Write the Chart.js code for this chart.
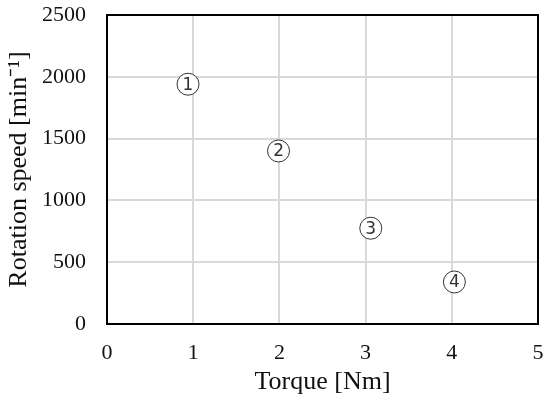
<!DOCTYPE html>
<html>
<head>
<meta charset="utf-8">
<script src="https://cdn.jsdelivr.net/npm/chart.js@4/dist/chart.umd.min.js"></script>
<style>
  html, body { margin: 0; padding: 0; background: #fff; }
  #wrap { width: 550px; height: 401px; }
</style>
</head>
<body>
<div id="wrap"><canvas id="grafic"></canvas></div>
<script>
// values
const torque = [0.94, 1.99, 3.06, 4.03];
const speed = [1940, 1400, 775, 340];
const pointNames = ["1", "2", "3", "4"];
const xTicks = [0, 1, 2, 3, 4, 5];
const yTicks = [0, 500, 1000, 1500, 2000, 2500];

const serif = "'Liberation Serif', 'Times New Roman', serif";

// frame round the plot area
const frame = {
  id: "frame",
  afterDraw(chart) {
    const { ctx, chartArea: a } = chart;
    ctx.save();
    ctx.strokeStyle = "#000";
    ctx.lineWidth = 2;
    ctx.strokeRect(a.left, a.top, a.right - a.left, a.bottom - a.top);
    ctx.restore();
  }
};

// numbers inside the circle markers
const numbers = {
  id: "numbers",
  afterDatasetsDraw(chart) {
    const ctx = chart.ctx;
    const meta = chart.getDatasetMeta(0);
    ctx.save();
    ctx.fillStyle = "#333";
    ctx.font = "17px 'DejaVu Sans', sans-serif";
    ctx.textAlign = "center";
    ctx.textBaseline = "middle";
    meta.data.forEach((p, i) => {
      ctx.fillText(pointNames[i], p.x, p.y + 1);
    });
    ctx.restore();
  }
};

const ctx = document.getElementById("grafic").getContext("2d");
new Chart(ctx, {
  type: "scatter",
  data: {
    datasets: [
      {
        data: torque.map((t, i) => ({ x: t, y: speed[i] })),
        pointRadius: 11,
        pointHoverRadius: 11,
        pointBackgroundColor: "#fff",
        pointBorderColor: "#333",
        pointBorderWidth: 1
      }
    ]
  },
  options: {
    responsive: true,
    maintainAspectRatio: false,
    animation: false,
    events: [],
    layout: { padding: { top: 15, right: 9, left: 0, bottom: 0 } },
    plugins: {
      legend: { display: false },
      tooltip: { enabled: false }
    },
    scales: {
      x: {
        type: "linear",
        min: 0,
        max: 5,
        afterBuildTicks: (s) => { s.ticks = xTicks.map((v) => ({ value: v })); },
        afterFit: (s) => { s.height = 77; s.paddingLeft = 0; s.paddingRight = 0; },
        grid: { color: "#d9d9d9", lineWidth: 2, drawTicks: false },
        border: { display: false },
        ticks: {
          padding: 16,
          color: "#111",
          font: { family: serif, size: 22 },
          callback: (v) => String(v)
        },
        title: {
          display: true,
          text: "Torque [Nm]",
          color: "#111",
          font: { family: serif, size: 26 },
          padding: { top: 0, bottom: 3 }
        }
      },
      y: {
        type: "linear",
        min: 0,
        max: 2500,
        afterBuildTicks: (s) => { s.ticks = yTicks.map((v) => ({ value: v })); },
        afterFit: (s) => { s.width = 107; s.paddingTop = 0; s.paddingBottom = 0; },
        grid: { color: "#d9d9d9", lineWidth: 2, drawTicks: false },
        border: { display: false },
        ticks: {
          padding: 21,
          color: "#111",
          font: { family: serif, size: 22 },
          callback: (v) => String(v)
        },
        title: {
          display: true,
          text: "Rotation speed [min\u207B\u00B9]",
          color: "#111",
          font: { family: serif, size: 26 },
          padding: { top: 4, bottom: 0 }
        }
      }
    }
  },
  plugins: [frame, numbers]
});
</script>
</body>
</html>
